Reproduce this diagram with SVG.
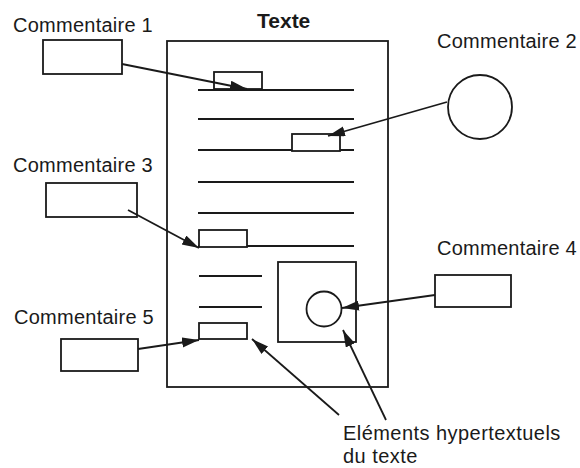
<svg xmlns="http://www.w3.org/2000/svg" width="580" height="468" viewBox="0 0 580 468">
<style>
.s{fill:none;stroke:#1a1a1a;stroke-width:1.8}
.f{fill:#fff;stroke:#1a1a1a;stroke-width:1.8}
.t{font-family:"Liberation Sans",Arial,sans-serif;font-size:20px;fill:#1a1a1a;letter-spacing:0.25px}
.b{font-weight:bold;font-size:21px;letter-spacing:0}
.l{letter-spacing:0.45px}
.c{fill:none;stroke:#1a1a1a;stroke-width:1.8;marker-end:url(#ah)}
</style>
<defs>
<marker id="ah" markerUnits="userSpaceOnUse" markerWidth="18" markerHeight="12" refX="17" refY="5" orient="auto">
<path d="M0,0 L17,5 L0,10 Z" fill="#1a1a1a"/>
</marker>
</defs>
<rect width="580" height="468" fill="#fff"/>
<g id="document">
<text class="t b" x="257" y="28">Texte</text>
<rect class="s" x="167" y="41" width="221" height="346"/>
<line class="s" x1="198" y1="90" x2="354" y2="90"/>
<line class="s" x1="198" y1="119" x2="354" y2="119"/>
<line class="s" x1="198" y1="150" x2="354" y2="150"/>
<line class="s" x1="198" y1="182" x2="354" y2="182"/>
<line class="s" x1="198" y1="213" x2="354" y2="213"/>
<line class="s" x1="198" y1="246" x2="354" y2="246"/>
<line class="s" x1="199" y1="276" x2="262" y2="276"/>
<line class="s" x1="199" y1="307" x2="262" y2="307"/>
</g>
<g id="element1"><rect class="f" x="214" y="72" width="48" height="17"/></g>
<g id="element2"><rect class="f" x="292" y="134" width="48" height="17"/></g>
<g id="element3"><rect class="f" x="199" y="230" width="48" height="17"/></g>
<g id="image"><rect class="s" x="278" y="262" width="78" height="80"/><circle class="s" cx="324" cy="309" r="17.5"/></g>
<g id="element5"><rect class="f" x="199" y="323" width="48" height="16"/></g>
<g id="commentaire1"><text class="t" x="13" y="32">Commentaire 1</text><rect class="s" x="43" y="40" width="79" height="34"/></g>
<g id="commentaire2"><text class="t" x="437" y="48">Commentaire 2</text><circle class="s" cx="480" cy="107" r="32"/></g>
<g id="commentaire3"><text class="t" x="13" y="172">Commentaire 3</text><rect class="s" x="46" y="183" width="91" height="34"/></g>
<g id="commentaire4"><text class="t" x="437" y="255">Commentaire 4</text><rect class="s" x="435" y="275" width="76" height="32"/></g>
<g id="commentaire5"><text class="t" x="14" y="324">Commentaire 5</text><rect class="s" x="61" y="339" width="77" height="32"/></g>
<g id="legende"><text class="t l" x="343" y="440">Eléments hypertextuels</text><text class="t l" x="343" y="463">du texte</text></g>
<g id="connectors">
<line class="c" x1="122" y1="64" x2="247" y2="89"/>
<line class="c" x1="447" y1="102" x2="328" y2="136"/>
<line class="c" x1="128" y1="210" x2="199" y2="248"/>
<line class="c" x1="435" y1="295" x2="342" y2="308"/>
<line class="c" x1="138" y1="349" x2="199" y2="340"/>
<line class="c" x1="339" y1="415" x2="252" y2="339"/>
<line class="c" x1="386" y1="420" x2="343" y2="330"/>
</g>
</svg>
